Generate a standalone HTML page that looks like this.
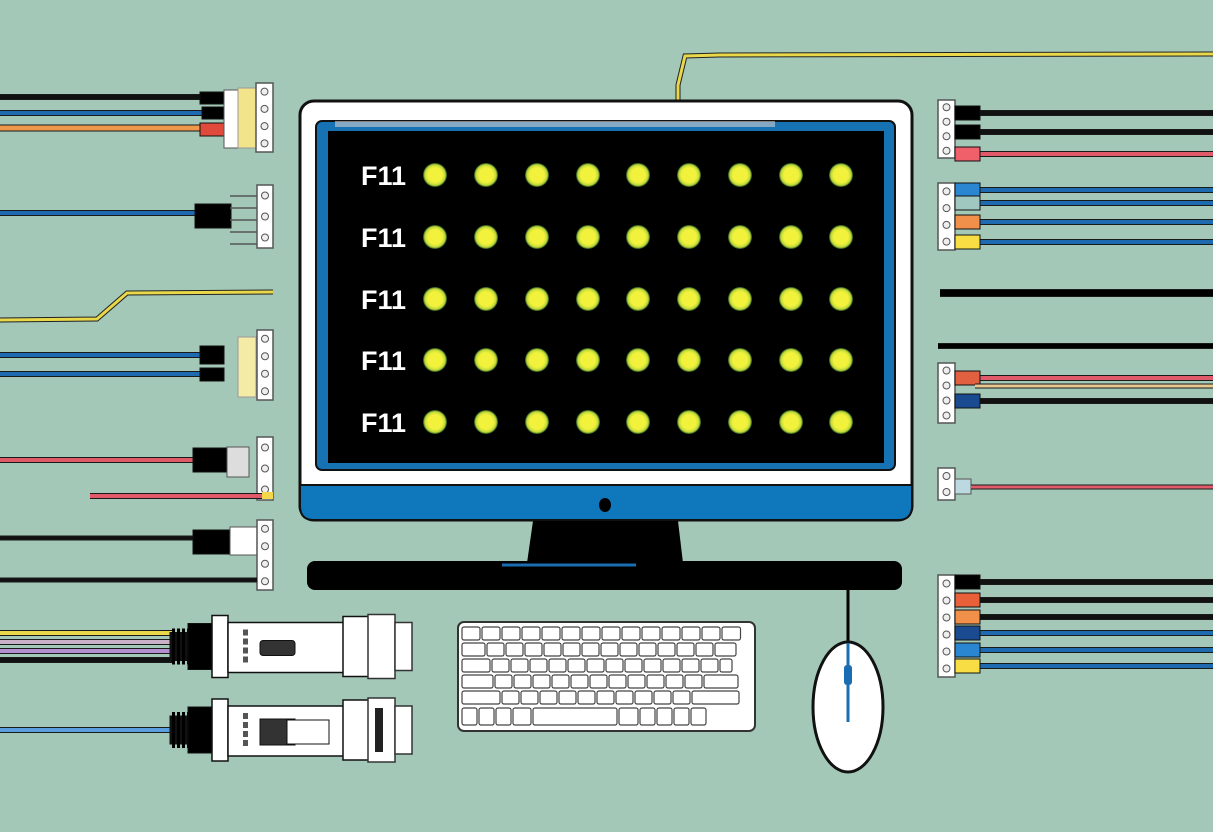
<!DOCTYPE html>
<html><head><meta charset="utf-8"><style>
html,body{margin:0;padding:0;background:#a3c8b8;}
svg{display:block}
</style></head><body>
<svg id="s" width="1213" height="832" viewBox="0 0 1213 832" xmlns="http://www.w3.org/2000/svg">
<rect width="1213" height="832" fill="#a3c8b8"/>
<defs>
<radialGradient id="g"><stop offset="0.6" stop-color="#f2f23c"/><stop offset="0.85" stop-color="#bfd83a"/><stop offset="1" stop-color="#1b4a20"/></radialGradient>
</defs>
<!-- top yellow wire -->
<polyline points="678,102 678,85 685,56 720,55 1213,54" fill="none" stroke="#222" stroke-width="5"/>
<polyline points="678,102 678,85 685,56 720,55 1213,54" fill="none" stroke="#e8d84a" stroke-width="3"/>
<!-- monitor -->
<rect x="300" y="101" width="612" height="419" rx="14" fill="#fff" stroke="#111" stroke-width="3"/>
<path d="M300,485 L912,485 L912,506 Q912,520 898,520 L314,520 Q300,520 300,506 Z" fill="#0f77bb" stroke="#111" stroke-width="2"/>
<rect x="316" y="121" width="579" height="349" rx="6" fill="#1772b4" stroke="#111" stroke-width="2"/>
<rect x="328" y="131" width="556" height="332" fill="#000"/>
<rect x="335" y="121" width="440" height="6" fill="#cfcfcf" opacity="0.6"/>
<ellipse cx="605" cy="505" rx="6" ry="7" fill="#000"/>
<path d="M533,521 L678,521 L683,563 L527,563 Z" fill="#000"/>
<rect x="307" y="561" width="595" height="29" rx="8" fill="#000"/>
<line x1="502" y1="565" x2="636" y2="565" stroke="#1a6db0" stroke-width="3"/>
<g id="dots"></g>
<g font-family="Liberation Sans, sans-serif" font-weight="bold" font-size="27" fill="#fff">
<text x="361" y="185">F11</text><text x="361" y="247">F11</text><text x="361" y="309">F11</text><text x="361" y="370">F11</text><text x="361" y="432">F11</text>
</g>
<!-- mouse -->
<line x1="848" y1="590" x2="848" y2="645" stroke="#000" stroke-width="3"/>
<ellipse cx="848" cy="707" rx="35" ry="65" fill="#fff" stroke="#111" stroke-width="3"/>
<line x1="848" y1="643" x2="848" y2="722" stroke="#1a6db0" stroke-width="3"/>
<rect x="844" y="665" width="8" height="20" rx="3" fill="#1a6db0"/>
<!-- keyboard -->
<rect x="458" y="622" width="297" height="109" rx="6" fill="#fff" stroke="#333" stroke-width="2"/>
<g id="keys" fill="#fff" stroke="#444" stroke-width="1.2"></g>
<g id="w"></g>
</svg>
<script>
var s=document.getElementById('w'),NS='http://www.w3.org/2000/svg';
function el(t,a,p){var e=document.createElementNS(NS,t);for(var k in a)e.setAttribute(k,a[k]);(p||s).appendChild(e);return e;}
var d=document.getElementById('dots');
[435,486,537,588,638,689,740,791,841].forEach(function(x){[175,237,299,360,422].forEach(function(y){el('circle',{cx:x,cy:y,r:12,fill:'url(#g)'},d);});});
var K=document.getElementById('keys');
function row(y,h,xs){var x=462;xs.forEach(function(w){el('rect',{x:x,y:y,width:w-2,height:h,rx:2},K);x+=w;});}
row(627,13,[20,20,20,20,20,20,20,20,20,20,20,20,20,20.5]);
row(643,13,[25,19,19,19,19,19,19,19,19,19,19,19,19,23]);
row(659,13,[30,19,19,19,19,19,19,19,19,19,19,19,19,14]);
row(675,13,[33,19,19,19,19,19,19,19,19,19,19,19,36]);
row(691,13,[40,19,19,19,19,19,19,19,19,19,19,49]);
row(708,17,[17,17,17,20,86,21,17,17,17,17]);
function wire(x1,y,x2,c,w){el('line',{x1:x1,y1:y,x2:x2,y2:y,stroke:'#1a1a1a','stroke-width':(w||4)+2});el('line',{x1:x1,y1:y,x2:x2,y2:y,stroke:c,'stroke-width':w||4});}
function blk(x,y,w,h,c){el('rect',{x:x,y:y,width:w,height:h,fill:c,stroke:'#111','stroke-width':1});}
function conn(x,y,w,h,n){el('rect',{x:x,y:y,width:w,height:h,fill:'#fff',stroke:'#555','stroke-width':1.5});for(var i=0;i<n;i++)el('circle',{cx:x+w/2,cy:y+h*(i+0.5)/n,r:3.5,fill:'#eee',stroke:'#555'});}
// left
wire(0,97,205,'#111',4);wire(0,113,205,'#1e6ab0',4);wire(0,128,205,'#f0984a',5);
blk(200,92,24,12,'#000');blk(202,107,22,12,'#000');blk(200,123,24,13,'#e04a3a');
el('rect',{x:224,y:90,width:16,height:58,fill:'#fff',stroke:'#555'});el('rect',{x:238,y:88,width:18,height:60,fill:'#f2e48a',stroke:'#999'});conn(256,83,17,69,4);
wire(0,213,195,'#1e6ab0',4);blk(195,204,36,24,'#000');for(var i=0;i<5;i++)el('line',{x1:230,y1:196+i*12,x2:257,y2:196+i*12,stroke:'#555','stroke-width':1.5});conn(257,185,16,63,3);
el('polyline',{points:'0,320 97,319 127,293 273,292',fill:'none',stroke:'#222','stroke-width':5});el('polyline',{points:'0,320 97,319 127,293 273,292',fill:'none',stroke:'#e8d84a','stroke-width':3});
wire(0,355,205,'#1e6ab0',4);wire(0,374,205,'#1e6ab0',4);blk(200,346,24,18,'#000');blk(200,368,24,13,'#000');
el('rect',{x:238,y:337,width:18,height:60,fill:'#f4eba6',stroke:'#999'});conn(257,330,16,70,4);
wire(0,460,193,'#e05a6a',4);blk(193,448,38,24,'#000');el('rect',{x:227,y:447,width:22,height:30,fill:'#ddd',stroke:'#555'});conn(257,437,16,63,3);
wire(90,496,273,'#e05a6a',4);el('rect',{x:262,y:492,width:11,height:7,fill:'#f2d84a'});
wire(0,538,193,'#111',3);blk(193,530,38,24,'#000');el('rect',{x:230,y:527,width:28,height:28,fill:'#fff',stroke:'#555'});conn(257,520,16,70,4);
wire(0,580,257,'#111',3);
// usb
function usb(y,cols,big){cols.forEach(function(c,i){wire(0,y+i*9,172,c,4);});
var cy=y+(cols.length-1)*4.5;
blk(170,cy-14,20,28,'#111');for(var i=0;i<4;i++)el('rect',{x:172+i*5,y:cy-18,width:3,height:36,fill:'#000'});
blk(188,cy-23,26,46,'#000');
el('rect',{x:212,y:cy-31,width:16,height:62,fill:'#fff',stroke:'#111','stroke-width':1.5});
el('rect',{x:228,y:cy-24,width:116,height:50,fill:'#fff',stroke:'#111','stroke-width':1.5});
el('rect',{x:343,y:cy-30,width:30,height:60,fill:'#fff',stroke:'#111','stroke-width':1.5});
el('rect',{x:368,y:cy-32,width:27,height:64,fill:'#fff',stroke:'#333','stroke-width':1.5});
el('rect',{x:395,y:cy-24,width:17,height:48,fill:'#fff',stroke:'#333','stroke-width':1.5});
for(var i=0;i<4;i++)el('rect',{x:243,y:cy-17+i*9,width:5,height:6,fill:'#555'});
if(big){el('rect',{x:260,y:cy-11,width:35,height:26,fill:'#333',stroke:'#111'});el('rect',{x:287,y:cy-10,width:42,height:24,fill:'#fff',stroke:'#111'});el('rect',{x:375,y:cy-22,width:8,height:44,fill:'#222'});}
else el('rect',{x:260,y:cy-6,width:35,height:15,rx:3,fill:'#333',stroke:'#111'});}
usb(633,['#e8d84a','#c9b2c8','#b48fd0','#111'],false);
usb(730,['#5a9ee0'],true);
// right
function rc(y,h,n){conn(938,y,17,h,n);}
function rw(y,c,b){wire(975,y,1213,c,4);blk(955,y-7,25,14,b);}
rc(100,58,4);rw(113,'#111','#000');rw(132,'#111','#000');rw(154,'#e05a6a','#f0606a');
rc(183,67,4);rw(190,'#1e6ab0','#2a86d0');rw(203,'#1e6ab0','#a0c8c0');rw(222,'#1e6ab0','#f0904a');rw(242,'#1e6ab0','#f8de44');
wire(940,293,1213,'#000',6);wire(938,346,1213,'#000',4);
rc(363,60,4);rw(378,'#e05a6a','#e06040');wire(975,386,1213,'#e8c890',3);rw(401,'#111','#1a4a90');
rc(468,32,2);el('rect',{x:955,y:479,width:16,height:15,fill:'#bcd8e0',stroke:'#555'});wire(971,487,1213,'#e05a6a',3);
rc(575,102,6);rw(582,'#111','#000');rw(600,'#111','#e8603a');rw(617,'#111','#f0904a');rw(633,'#1e6ab0','#1a4a90');rw(650,'#1e6ab0','#2a86d0');rw(666,'#1e6ab0','#f8de44');
</script>
</body></html>
